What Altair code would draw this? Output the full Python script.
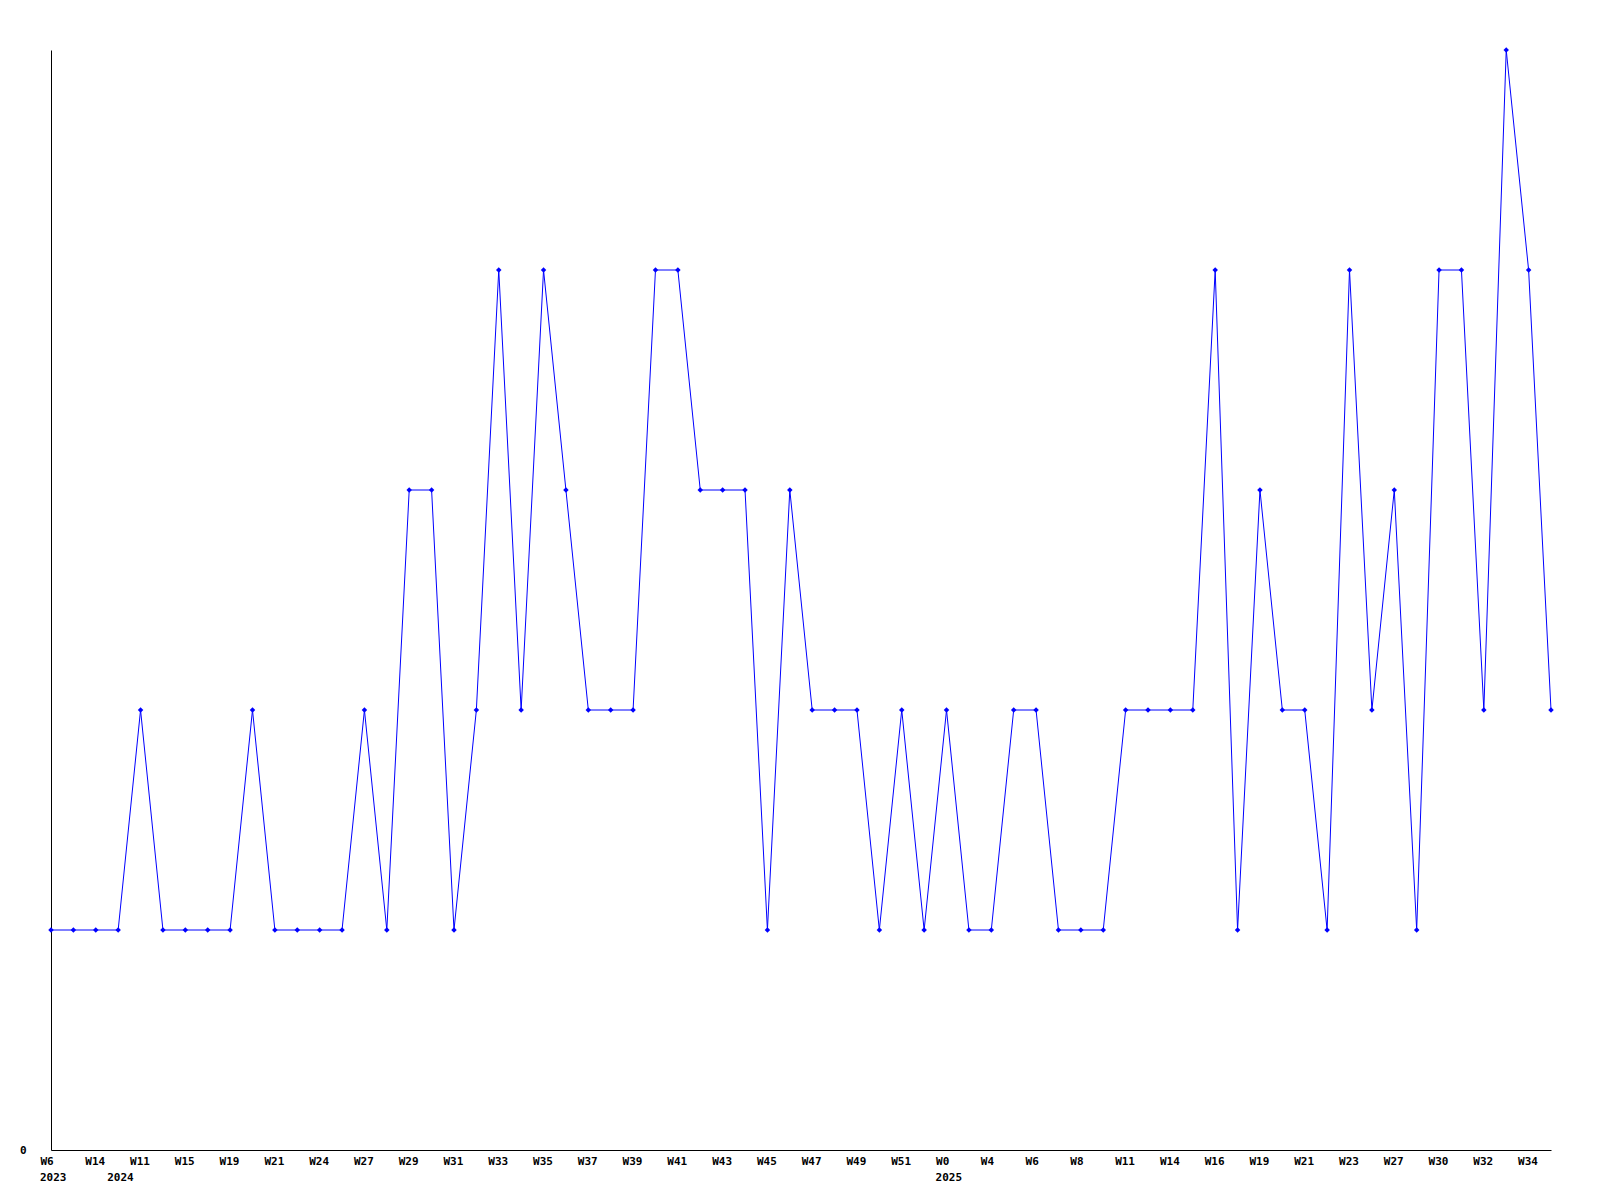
import altair as alt
import pandas as pd

# weekly values, one per point (68 points)
values = [1, 1, 1, 1, 2, 1, 1, 1, 1, 2,
          1, 1, 1, 1, 2, 1, 3, 3, 1, 2,
          4, 2, 4, 3, 2, 2, 2, 4, 4, 3,
          3, 3, 1, 3, 2, 2, 2, 1, 2, 1,
          2, 1, 1, 2, 2, 1, 1, 1, 2, 2,
          2, 2, 4, 1, 3, 2, 2, 1, 4, 2,
          3, 1, 4, 4, 2, 5, 4, 2]

# week tick labels shown on every other point
tick_weeks = ["W6", "W14", "W11", "W15", "W19", "W21", "W24", "W27", "W29", "W31",
              "W33", "W35", "W37", "W39", "W41", "W43", "W45", "W47", "W49", "W51",
              "W0", "W4", "W6", "W8", "W11", "W14", "W16", "W19", "W21", "W23",
              "W27", "W30", "W32", "W34"]

# year labels and the point index where each year starts
year_labels = ["2023", "2024", "2025"]
year_index = [0, 3, 40]

df = pd.DataFrame({"i": list(range(len(values))), "v": values})
years_df = pd.DataFrame({"i": year_index, "t": year_labels})

tick_vals = [2 * k for k in range(len(tick_weeks))]
label_expr = "[" + ",".join("'" + w + "'" for w in tick_weeks) + "][round(datum.value / 2)]"

FONT = "DejaVu Sans Mono"
H = 1100

xscale = alt.Scale(domain=[0, len(values) - 1], nice=False, zero=False)
x = alt.X("i:Q", scale=xscale,
          axis=alt.Axis(values=tick_vals, labelExpr=label_expr, title=None,
                        grid=False, ticks=False, domainColor="black", domainWidth=1,
                        labelAlign="left", labelOffset=-11, labelBaseline="top",
                        labelPadding=5, labelFont=FONT, labelFontSize=11,
                        labelFontWeight="bold", labelColor="black",
                        labelOverlap=False, labelFlush=False))
y = alt.Y("v:Q",
          scale=alt.Scale(domain=[0, 5], nice=False),
          axis=alt.Axis(values=[0], title=None, grid=False, ticks=False,
                        domainColor="black", domainWidth=1,
                        labelPadding=25, labelFont=FONT, labelFontSize=11,
                        labelFontWeight="bold", labelColor="black"))

base = alt.Chart(df)
line = base.mark_line(color="#0000ff", strokeWidth=1).encode(x=x, y=y)
pts = base.mark_point(shape="diamond", filled=True, color="#0000ff", size=30, opacity=1).encode(x=x, y=y)
years = alt.Chart(years_df).mark_text(
    align="left", baseline="top", dx=-11, font=FONT, fontSize=11,
    fontWeight="bold", color="black"
).encode(x=alt.X("i:Q", scale=xscale), y=alt.value(H + 22), text="t:N")

chart = alt.layer(line, pts, years).properties(
    width=1500, height=H,
    autosize=alt.AutoSizeParams(type="none"),
    padding={"left": 43, "top": 42, "right": 30, "bottom": 40},
).configure_view(stroke=None)

chart.save("out.html", embed_options={"renderer": "svg", "actions": False})
